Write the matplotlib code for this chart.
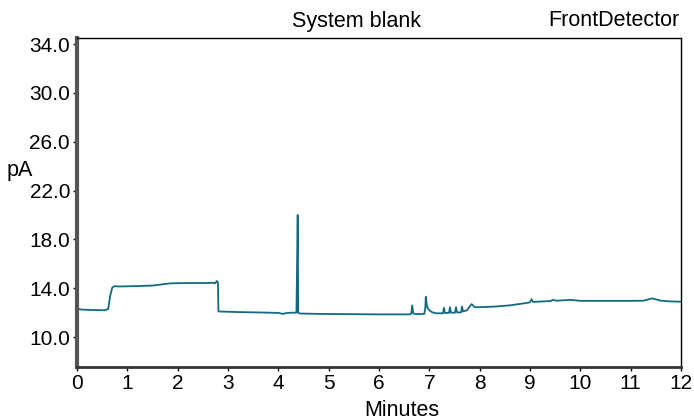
import matplotlib
matplotlib.use("Agg")
import matplotlib.pyplot as plt

# Chromatogram trace: retention time (min) and detector signal (pA)
minutes = [0.00, 0.02, 0.10, 0.30, 0.55, 0.62, 0.66, 0.70, 0.75, 0.80, 0.90,
           1.20, 1.50, 1.85, 2.20, 2.60, 2.70, 2.74, 2.76, 2.78, 2.80, 2.81,
           3.20, 3.60, 4.00, 4.09, 4.15, 4.25, 4.36, 4.385, 4.395, 4.41, 4.45,
           4.80, 5.40, 6.00, 6.60, 6.64, 6.66, 6.68, 6.72, 6.90, 6.92, 6.93,
           6.95, 6.97, 7.00, 7.05, 7.12, 7.27, 7.29, 7.31, 7.39, 7.41, 7.43,
           7.51, 7.53, 7.55, 7.63, 7.65, 7.67, 7.75, 7.80, 7.84, 7.90, 8.00,
           8.30, 8.60, 8.94, 9.00, 9.03, 9.06, 9.15, 9.40, 9.46, 9.52, 9.80,
           10.00, 10.50, 11.00, 11.25, 11.43, 11.60, 11.80, 12.00]
signal_pa = [12.50, 12.30, 12.25, 12.22, 12.20, 12.30, 13.40, 14.05, 14.18, 14.15, 14.15,
             14.18, 14.22, 14.40, 14.43, 14.43, 14.45, 14.40, 14.50, 14.60, 14.45, 12.10,
             12.05, 12.02, 11.98, 11.90, 11.96, 12.00, 12.00, 20.00, 12.02, 11.95, 11.93,
             11.90, 11.88, 11.86, 11.86, 11.90, 12.60, 11.95, 11.88, 11.90, 12.40, 13.30,
             12.60, 12.35, 12.20, 12.05, 11.95, 11.95, 12.40, 11.98, 11.98, 12.45, 12.00,
             12.00, 12.45, 12.02, 12.02, 12.50, 12.10, 12.20, 12.50, 12.70, 12.45, 12.45,
             12.50, 12.60, 12.80, 12.85, 13.10, 12.88, 12.90, 12.95, 13.05, 12.98, 13.05,
             12.97, 12.97, 12.97, 12.98, 13.17, 12.98, 12.92, 12.90]

x_ticks = list(range(0, 13))
y_ticks = [10.0, 14.0, 18.0, 22.0, 26.0, 30.0, 34.0]

plt.rcParams["font.family"] = ["Liberation Sans", "DejaVu Sans"]

fig = plt.figure(figsize=(6.94, 4.19), dpi=100)
ax = fig.add_axes([77 / 694, 1 - 367 / 419, (681 - 77) / 694, (367 - 38) / 419])

ax.plot(minutes, signal_pa, color="#126a82", lw=1.3)

ax.set_xlim(0, 12)
ax.set_ylim(7.55, 34.5)
ax.set_xticks(x_ticks)
ax.set_yticks(y_ticks)
ax.set_yticklabels([f"{v:.1f}" for v in y_ticks])
ax.tick_params(labelsize=15, length=3, width=1, direction="out", pad=2)

# Heavier grey frame on the two value axes, thin black elsewhere
ax.spines["left"].set_linewidth(3)
ax.spines["left"].set_color("#555555")
ax.spines["bottom"].set_linewidth(2)
ax.spines["bottom"].set_color("#333333")
ax.spines["top"].set_linewidth(1)
ax.spines["right"].set_linewidth(1)

fig.text(20 / 694, 1 - 170 / 419, "pA", fontsize=15.5, ha="center", va="center")
fig.text(402 / 694, 1 - 410 / 419, "Minutes", fontsize=15.5, ha="center", va="center")
fig.text(357 / 694, 1 - 21 / 419, "System blank", fontsize=15.5, ha="center", va="center")
fig.text(679 / 694, 1 - 21 / 419, "FrontDetector", fontsize=15.5, ha="right", va="center")

fig.savefig("out.png", dpi=100, facecolor="w")
